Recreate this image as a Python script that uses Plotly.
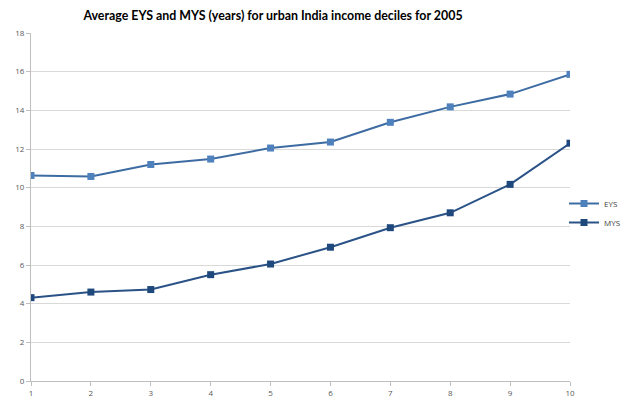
import plotly.graph_objects as go

deciles = [1, 2, 3, 4, 5, 6, 7, 8, 9, 10]
eys = [10.63, 10.58, 11.20, 11.48, 12.05, 12.36, 13.38, 14.18, 14.84, 15.86]
mys = [4.31, 4.60, 4.73, 5.50, 6.05, 6.92, 7.93, 8.70, 10.17, 12.30]
y_ticks = [0, 2, 4, 6, 8, 10, 12, 14, 16, 18]

fig = go.Figure()
fig.add_trace(go.Scatter(
    x=deciles, y=eys, name="EYS", mode="lines+markers",
    line=dict(color="#3D6CA3", width=2),
    marker=dict(symbol="square", size=7, color="#4F81BD"),
))
fig.add_trace(go.Scatter(
    x=deciles, y=mys, name="MYS", mode="lines+markers",
    line=dict(color="#2A5286", width=2),
    marker=dict(symbol="square", size=7, color="#1F497D"),
))

fig.update_layout(
    width=627, height=400,
    margin=dict(l=31, r=57, t=33, b=19, autoexpand=False),
    paper_bgcolor="white", plot_bgcolor="white",
    font=dict(family="Open Sans", color="#595959", size=8),
    title=dict(
        text="Average EYS and MYS (years) for urban India income deciles for 2005",
        x=273 / 627, xanchor="center", y=1 - 15.5 / 400, yanchor="middle",
        font=dict(family="Lato", size=12.4, color="#000000", weight="bold"),
    ),
    showlegend=True,
    legend=dict(
        x=(564 - 31) / 539, xref="paper", xanchor="left",
        y=(381 - 213) / 348, yanchor="middle",
        font=dict(size=8, color="#404040"),
        itemwidth=30,
        bgcolor="rgba(0,0,0,0)",
    ),
)
fig.update_xaxes(
    range=[1, 10], tickvals=deciles, ticktext=[str(d) for d in deciles],
    showgrid=False, showline=True, linecolor="#BFBFBF", linewidth=1,
    ticks="outside", ticklen=4, tickcolor="#BFBFBF",
    zeroline=False, fixedrange=True, automargin=False,
)
fig.update_yaxes(
    range=[0, 18], tickvals=y_ticks,
    showgrid=True, gridcolor="#D9D9D9", gridwidth=1,
    showline=True, linecolor="#BFBFBF", linewidth=1,
    ticks="outside", ticklen=4, tickcolor="#BFBFBF",
    zeroline=False, fixedrange=True, automargin=False,
)

fig.write_html("out.html")
